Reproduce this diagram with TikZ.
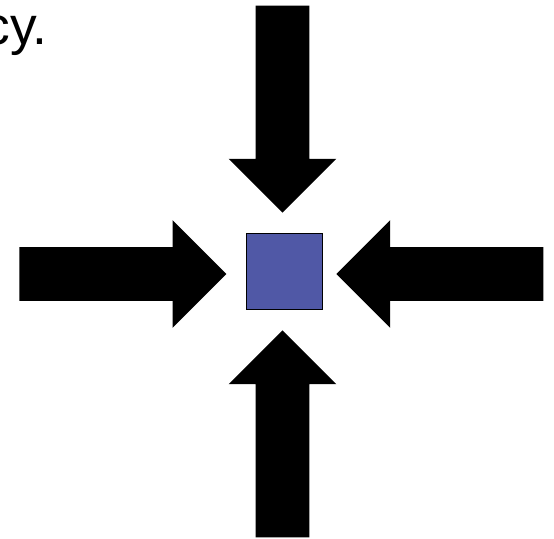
\documentclass[tikz,border=0pt]{standalone}
\usepackage{fontspec}
\setmainfont{Liberation Sans}
\usetikzlibrary{shapes.arrows,positioning}
\definecolor{boxblue}{RGB}{80,88,166}

\begin{document}
\begin{tikzpicture}[x=0.75pt, y=-0.75pt,
    bigarrow/.style={single arrow, fill=black, inner xsep=0pt, inner ysep=19.875pt,
        single arrow head extend=20.25pt, single arrow tip angle=90,
        minimum height=155.25pt, anchor=tip},
    target/.style={rectangle, draw=black, line width=1.1pt, fill=boxblue,
        minimum size=57pt, inner sep=0pt}]
    \useasboundingbox (0,0) rectangle (554,539);
    % Caption fragment
    \node (txt) [anchor=base east, inner sep=0pt, font=\fontsize{40}{48}\selectfont] at (48,45) {cy.};
    % Centre box
    \node (sq) [target] at (284.5,271.5) {};
    % Arrows
    \node (up) [bigarrow, rotate=-90] at (282.5,213) {};
    \node (dn) [bigarrow, rotate=90] at (282.5,330) {};
    \node (lf) [bigarrow] at (226.7,274) {};
    \node (rt) [bigarrow, rotate=180] at (336,274) {};
\end{tikzpicture}
\end{document}
